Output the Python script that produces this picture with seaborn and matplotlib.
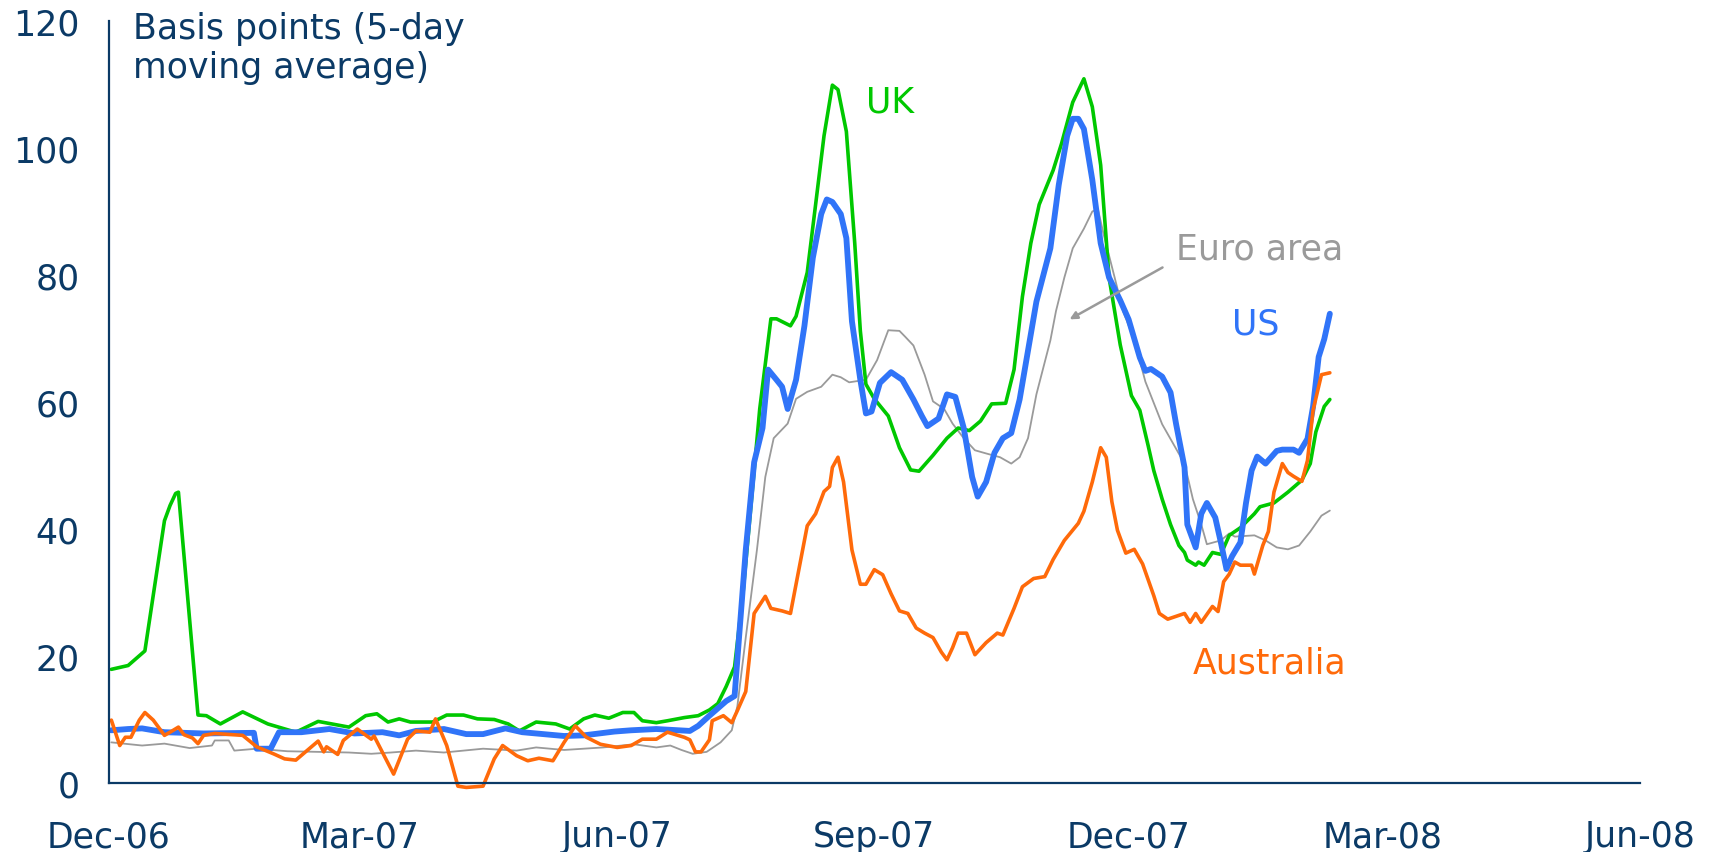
import numpy as np
import pandas as pd
import matplotlib
matplotlib.use('Agg')
import matplotlib.pyplot as plt
import matplotlib.dates as mdates
import seaborn as sns

start = pd.Timestamp('2006-12-01')

# days since 1 Dec 2006 and spread in basis points
uk_day = [1, 7, 13, 20, 22, 24, 25, 32, 35, 40, 48, 57, 67, 75, 86, 92, 96, 100, 104, 108,
          116, 121, 127, 132, 138, 143, 147, 153, 160, 165, 170, 174, 179, 184, 188, 191, 196, 200, 206, 211,
          215, 218, 221, 224, 227, 230, 233, 237, 239, 244, 246, 250, 253, 256, 259, 261, 264, 267, 269, 271,
          274, 279, 283, 287, 290, 295, 300, 304, 308, 312, 316, 321, 324, 327, 330, 333, 338, 341, 345, 349,
          352, 355, 358, 362, 366, 369, 372, 374, 377, 380, 383, 385, 386, 389, 390, 392, 395, 398, 401, 405,
          410, 412, 417, 422, 427, 430, 432, 435, 437]
uk_bp = [17.9, 18.5, 20.8, 41.3, 43.7, 45.6, 45.8, 10.7, 10.6, 9.3, 11.2, 9.3, 8.0, 9.7, 8.8, 10.6, 10.9, 9.6, 10.1, 9.6,
         9.6, 10.7, 10.7, 10.1, 10.0, 9.3, 8.2, 9.6, 9.3, 8.5, 10.1, 10.7, 10.2, 11.1, 11.1, 9.8, 9.5, 9.8, 10.3, 10.6,
         11.5, 12.5, 15.2, 18.3, 29.8, 44.3, 58.9, 73.1, 73.1, 72.0, 73.5, 80.4, 91.1, 101.9, 109.9, 109.2, 102.6, 85.0, 71.2, 62.8,
         60.5, 57.8, 52.8, 49.3, 49.1, 51.6, 54.3, 55.9, 55.5, 57.0, 59.7, 59.8, 65.1, 76.6, 85.0, 91.1, 96.5, 100.7, 107.2, 110.9,
         106.5, 97.3, 79.6, 69.0, 61.0, 58.7, 53.1, 49.2, 44.7, 40.7, 37.4, 36.3, 35.1, 34.3, 34.8, 34.3, 36.3, 36.0, 39.0, 40.2,
         42.4, 43.5, 44.1, 45.8, 47.7, 50.3, 55.3, 59.3, 60.4]

us_day = [1, 7, 12, 20, 34, 52, 53, 58, 61, 69, 79, 88, 98, 104, 110, 120, 128, 134, 142, 148,
          163, 170, 181, 187, 196, 208, 211, 215, 221, 224, 226, 228, 231, 234, 236, 239, 241, 243, 246, 249,
          252, 255, 257, 259, 262, 264, 266, 269, 271, 273, 276, 280, 284, 288, 291, 293, 297, 300, 303, 306,
          309, 311, 314, 317, 320, 323, 326, 329, 332, 337, 340, 343, 345, 347, 349, 352, 355, 358, 362, 365,
          369, 371, 373, 377, 380, 382, 385, 386, 389, 391, 393, 396, 398, 400, 402, 405, 407, 409, 411, 414,
          418, 420, 424, 426, 429, 431, 433, 435, 437]
us_bp = [8.3, 8.5, 8.6, 8.0, 7.8, 7.9, 5.4, 5.4, 8.0, 8.0, 8.5, 7.8, 8.0, 7.5, 8.2, 8.5, 7.7, 7.7, 8.6, 8.0,
         7.4, 7.5, 8.1, 8.3, 8.5, 8.2, 9.0, 10.6, 12.9, 13.7, 25.2, 36.7, 50.5, 55.9, 65.1, 63.5, 62.4, 58.9, 63.5, 72.0,
         82.7, 89.6, 91.9, 91.5, 89.6, 85.8, 72.7, 63.5, 58.2, 58.5, 63.0, 64.7, 63.5, 60.4, 57.8, 56.2, 57.4, 61.2, 60.8, 55.9,
         48.2, 45.1, 47.4, 52.0, 54.3, 55.1, 60.4, 68.1, 75.8, 84.2, 94.2, 101.9, 104.6, 104.6, 103.0, 95.0, 85.0, 79.6, 76.0, 73.0,
         67.0, 64.9, 65.2, 64.0, 61.5, 56.5, 49.7, 40.7, 37.1, 42.4, 44.1, 41.8, 37.9, 33.7, 35.7, 37.9, 44.1, 49.2, 51.4, 50.3,
         52.3, 52.5, 52.5, 52.0, 54.2, 59.3, 67.1, 69.9, 73.9]

euro_day = [1, 12, 20, 29, 37, 38, 43, 45, 53, 64, 86, 94, 101, 110, 120, 134, 146, 153, 163, 177,
            188, 196, 201, 205, 209, 214, 219, 223, 225, 228, 232, 235, 238, 243, 246, 250, 255, 259, 262, 265,
            271, 275, 279, 283, 285, 288, 292, 295, 299, 302, 306, 310, 314, 319, 323, 326, 329, 332, 337, 339,
            342, 345, 349, 352, 354, 356, 360, 363, 367, 371, 377, 385, 388, 391, 393, 398, 401, 403, 410, 414,
            418, 422, 426, 430, 434, 437]
euro_bp = [6.4, 5.9, 6.2, 5.5, 5.9, 6.7, 6.7, 5.1, 5.4, 5.0, 4.8, 4.6, 4.8, 5.1, 4.8, 5.4, 5.1, 5.6, 5.2, 5.6,
           6.1, 5.6, 5.9, 5.2, 4.6, 4.9, 6.4, 8.3, 12.1, 22.9, 36.7, 48.2, 54.3, 56.6, 60.5, 61.6, 62.4, 64.3, 63.9, 63.1,
           63.5, 66.6, 71.3, 71.2, 70.3, 68.9, 64.3, 60.1, 58.9, 56.6, 54.3, 52.4, 51.9, 51.3, 50.3, 51.3, 54.3, 61.2, 69.7, 74.3,
           79.6, 84.2, 87.3, 90.0, 90.4, 86.5, 79.6, 74.3, 69.8, 63.2, 56.5, 50.3, 44.7, 40.7, 37.6, 38.2, 39.3, 38.8, 39.0, 38.2,
           37.1, 36.8, 37.4, 39.6, 42.1, 42.9]

aus_day = [1, 4, 6, 8, 11, 13, 16, 20, 22, 25, 27, 30, 32, 34, 38, 48, 53, 59, 63, 67,
           75, 77, 78, 82, 84, 89, 94, 95, 102, 107, 110, 115, 117, 121, 125, 128, 134, 138, 141, 146,
           150, 154, 159, 163, 167, 171, 176, 182, 187, 191, 196, 200, 206, 208, 210, 212, 215, 216, 220, 223,
           225, 228, 231, 235, 237, 241, 244, 247, 250, 253, 256, 258, 259, 261, 263, 266, 269, 271, 274, 277,
           280, 283, 286, 289, 292, 295, 298, 300, 302, 304, 307, 310, 314, 318, 320, 324, 327, 331, 335, 338,
           342, 347, 349, 352, 355, 357, 359, 361, 364, 367, 370, 374, 376, 379, 385, 387, 389, 391, 395, 397,
           399, 401, 403, 405, 409, 410, 413, 415, 417, 420, 422, 424, 427, 429, 431, 434, 437]
aus_bp = [9.9, 5.9, 7.2, 7.2, 9.9, 11.1, 9.9, 7.5, 8.0, 8.8, 7.6, 7.1, 6.2, 7.5, 7.8, 7.5, 5.7, 4.6, 3.8, 3.6,
          6.6, 4.9, 5.7, 4.5, 6.7, 8.5, 6.9, 7.4, 1.4, 6.9, 8.2, 8.0, 10.1, 5.9, -0.5, -0.7, -0.5, 3.8, 5.9, 4.3,
          3.5, 3.9, 3.5, 6.4, 9.0, 7.2, 6.1, 5.6, 5.9, 6.9, 6.9, 8.0, 7.2, 6.8, 4.9, 4.9, 6.8, 9.8, 10.6, 9.5,
          11.4, 14.4, 26.7, 29.4, 27.5, 27.1, 26.7, 33.6, 40.5, 42.4, 45.9, 46.7, 49.7, 51.3, 47.4, 36.7, 31.3, 31.3, 33.6, 32.8,
          29.8, 27.1, 26.7, 24.4, 23.6, 22.9, 20.6, 19.4, 21.3, 23.6, 23.6, 20.2, 22.1, 23.6, 23.3, 27.5, 30.9, 32.2, 32.5, 35.2,
          38.2, 40.9, 42.8, 47.4, 52.8, 51.3, 44.3, 39.8, 36.2, 36.8, 34.5, 29.5, 26.7, 25.8, 26.7, 25.3, 26.7, 25.3, 27.8, 27.0,
          31.7, 32.9, 34.8, 34.3, 34.3, 32.9, 37.4, 39.6, 45.8, 50.3, 48.9, 48.3, 47.5, 50.8, 58.7, 64.3, 64.6]

navy = '#0b3a66'
c_uk = '#00c800'
c_us = '#3074f8'
c_euro = '#9a9a9a'
c_aus = '#ff6a0a'


def frame(day, bp):
    return pd.DataFrame({'date': start + pd.to_timedelta(day, unit='D'), 'bp': bp})


sns.set_style('white')
plt.rcParams['font.family'] = ['DejaVu Sans']

fig = plt.figure(figsize=(17.15, 8.53), dpi=100)
ax = fig.add_axes([0.0633, 0.0809, 0.893, 0.8933])

sns.lineplot(data=frame(euro_day, euro_bp), x='date', y='bp', ax=ax, color=c_euro, linewidth=1.3)
sns.lineplot(data=frame(uk_day, uk_bp), x='date', y='bp', ax=ax, color=c_uk, linewidth=2.6)
sns.lineplot(data=frame(us_day, us_bp), x='date', y='bp', ax=ax, color=c_us, linewidth=4.2)
sns.lineplot(data=frame(aus_day, aus_bp), x='date', y='bp', ax=ax, color=c_aus, linewidth=2.6)

for ln in ax.lines:
    ln.set_solid_joinstyle('round')
    ln.set_solid_capstyle('round')
# the Australian dip below zero is drawn just under the axis in the original
ax.lines[-1].set_clip_on(False)

ax.set_xlim(start, pd.Timestamp('2008-06-01'))
ax.set_ylim(0, 120)
ax.set_yticks(range(0, 121, 20))
ax.xaxis.set_major_locator(mdates.MonthLocator(bymonth=[3, 6, 9, 12]))
ax.xaxis.set_major_formatter(mdates.DateFormatter('%b-%y'))
ax.set_xlabel('')
ax.set_ylabel('')

for side in ['top', 'right']:
    ax.spines[side].set_visible(False)
for side in ['left', 'bottom']:
    ax.spines[side].set_color(navy)
    ax.spines[side].set_linewidth(1.6)

ax.tick_params(axis='both', direction='out', length=8, width=1.6, color=navy,
               labelcolor=navy, labelsize=25)
ax.tick_params(axis='x', pad=18)
ax.tick_params(axis='y', pad=13)

fig.text(133 / 1715, 1 - 12 / 853, 'Basis points (5-day\nmoving average)',
         color=navy, fontsize=25, va='top', ha='left')


def at(day):
    return start + pd.Timedelta(days=day)


ax.text(at(271), 107.4, 'UK', color=c_uk, fontsize=25, va='center', ha='left')
ax.text(at(382), 84.2, 'Euro area', color=c_euro, fontsize=25, va='center', ha='left')
ax.text(at(402), 72.3, 'US', color=c_us, fontsize=25, va='center', ha='left')
ax.text(at(388), 19.0, 'Australia', color=c_aus, fontsize=25, va='center', ha='left')
ax.annotate('', xy=(at(343), 72.8), xytext=(at(378), 81.4),
            arrowprops=dict(arrowstyle='-|>', color=c_euro, lw=1.8, mutation_scale=11))

fig.savefig('out.png', dpi=100)
